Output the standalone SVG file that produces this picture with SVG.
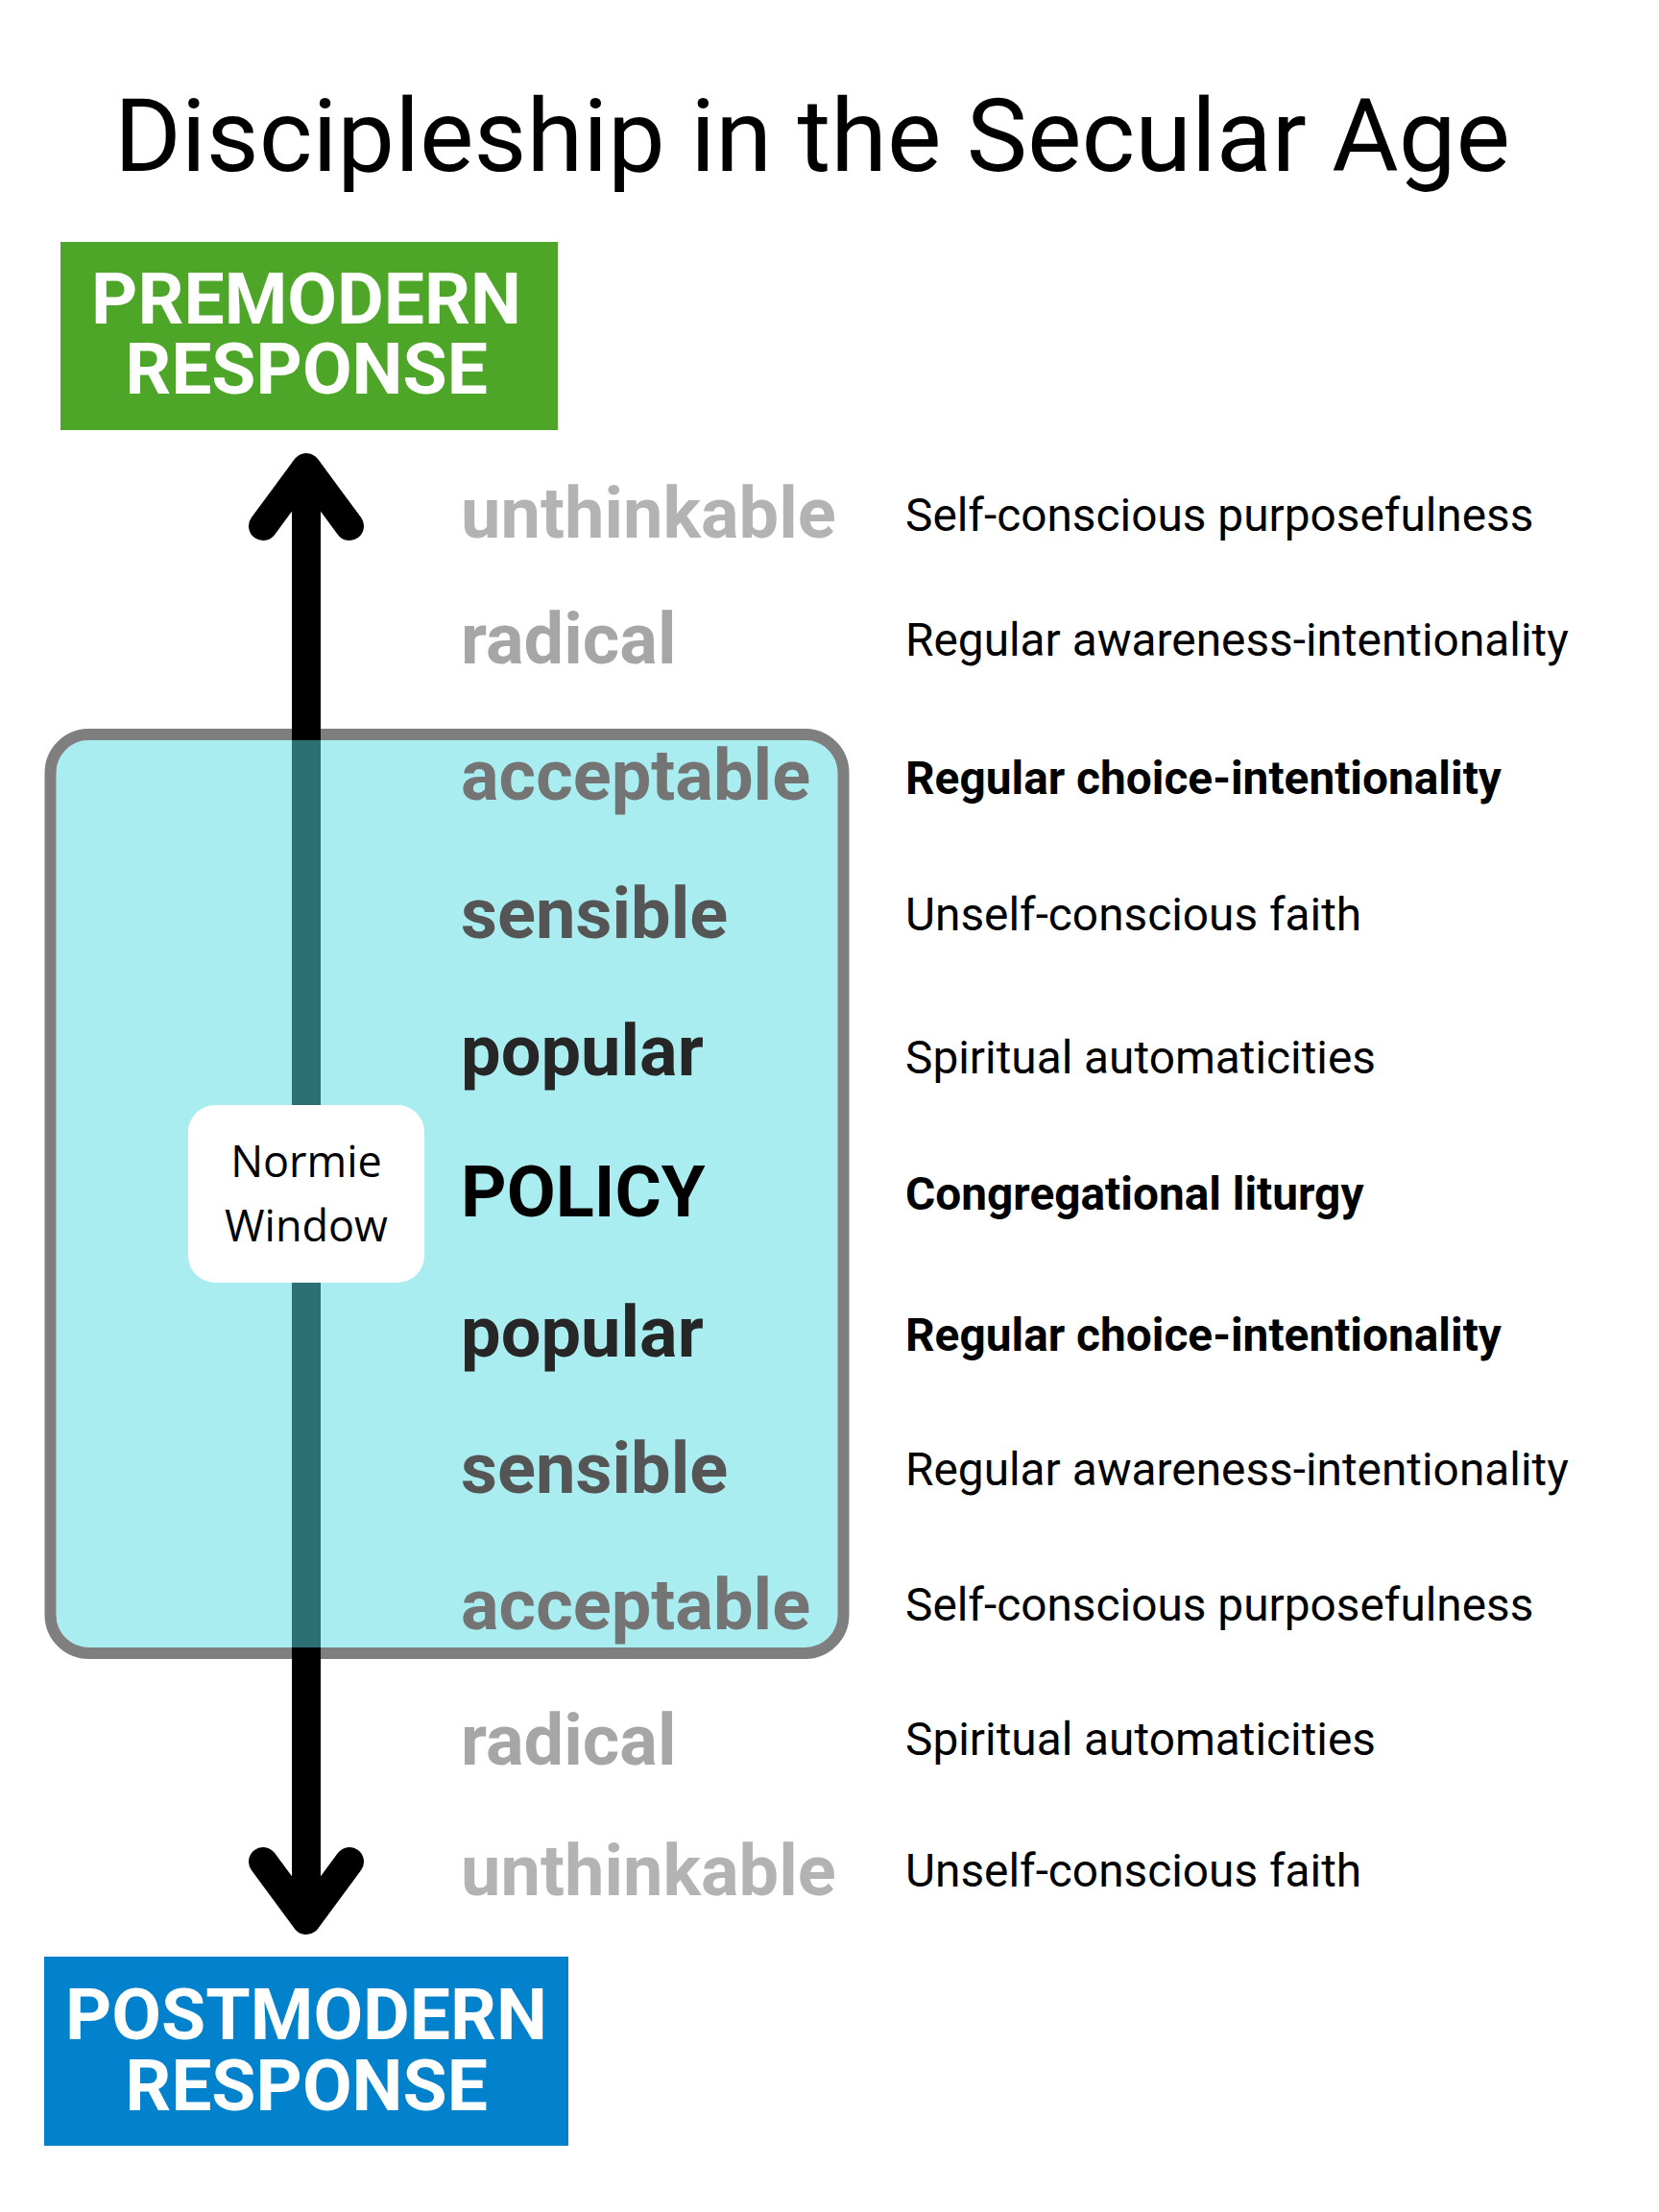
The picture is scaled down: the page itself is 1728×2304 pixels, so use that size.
<svg xmlns="http://www.w3.org/2000/svg" width="1728" height="2304" viewBox="0 0 1728 2304">
<style>
.lab{font-family:Roboto,"Liberation Sans",sans-serif;font-weight:700;font-size:74px}
.desc{font-family:Roboto,"Liberation Sans",sans-serif;font-size:47.8px;fill:#000}
.b{font-weight:700}
.resp{font-family:Roboto,"Liberation Sans",sans-serif;font-weight:700;font-size:75px;fill:#fff;text-anchor:middle}
.arr{fill:none;stroke:#000;stroke-width:30;stroke-linecap:round;stroke-linejoin:round}
</style>
<rect width="1728" height="2304" fill="#fff"/>
<text x="846" y="178" font-family="Roboto, 'Liberation Sans', sans-serif" font-size="106.5" text-anchor="middle" fill="#000">Discipleship in the Secular Age</text>

<g id="premodern">
<rect x="63" y="252" width="518" height="196" fill="#4DA628"/>
<text class="resp" x="319" y="337">PREMODERN</text>
<text class="resp" x="319" y="410">RESPONSE</text>
</g>

<g id="postmodern">
<rect x="46" y="2038" width="546" height="197" fill="#0281CC"/>
<text class="resp" x="319" y="2124">POSTMODERN</text>
<text class="resp" x="319" y="2198">RESPONSE</text>
</g>

<g id="connectors">
<line x1="319" y1="490" x2="319" y2="1997" stroke="#000" stroke-width="30"/>
<polyline class="arr" points="274,548 319,487 364,548"/>
<polyline class="arr" points="274,1939 319,2000 364,1939"/>
</g>

<g id="normie-window-box">
<rect x="58.5" y="771" width="814" height="945" rx="34" fill="#58DBE3" fill-opacity="0.51"/>
<rect x="52.5" y="765" width="826" height="957" rx="40" fill="none" stroke="#000" stroke-opacity="0.5" stroke-width="12"/>
</g>

<g id="normie-window-label">
<rect x="196" y="1151" width="246" height="185" rx="28" fill="#fff"/>
<text x="319" y="1226" font-family="'Open Sans', 'Noto Sans', sans-serif" font-size="45" text-anchor="middle" fill="#000">Normie</text>
<text x="319" y="1293" font-family="'Open Sans', 'Noto Sans', sans-serif" font-size="45" text-anchor="middle" fill="#000">Window</text>
</g>

<g id="levels">
<text class="lab" x="480" y="560" fill="#B3B3B3">unthinkable</text>
<text class="lab" x="480" y="691" fill="#A6A6A6">radical</text>
<text class="lab" x="480" y="833" fill="#747474">acceptable</text>
<text class="lab" x="480" y="977" fill="#555555">sensible</text>
<text class="lab" x="480" y="1120" fill="#262626">popular</text>
<text class="lab" x="480" y="1267" fill="#000000">POLICY</text>
<text class="lab" x="480" y="1413" fill="#262626">popular</text>
<text class="lab" x="480" y="1555" fill="#555555">sensible</text>
<text class="lab" x="480" y="1697" fill="#747474">acceptable</text>
<text class="lab" x="480" y="1838" fill="#A6A6A6">radical</text>
<text class="lab" x="480" y="1974" fill="#B3B3B3">unthinkable</text>
</g>

<g id="descriptions">
<text class="desc" x="943" y="553">Self-conscious purposefulness</text>
<text class="desc" x="943" y="683">Regular awareness-intentionality</text>
<text class="desc b" x="943" y="827">Regular choice-intentionality</text>
<text class="desc" x="943" y="969">Unself-conscious faith</text>
<text class="desc" x="943" y="1118">Spiritual automaticities</text>
<text class="desc b" x="943" y="1260">Congregational liturgy</text>
<text class="desc b" x="943" y="1407">Regular choice-intentionality</text>
<text class="desc" x="943" y="1547">Regular awareness-intentionality</text>
<text class="desc" x="943" y="1688">Self-conscious purposefulness</text>
<text class="desc" x="943" y="1828">Spiritual automaticities</text>
<text class="desc" x="943" y="1965">Unself-conscious faith</text>
</g>
</svg>
